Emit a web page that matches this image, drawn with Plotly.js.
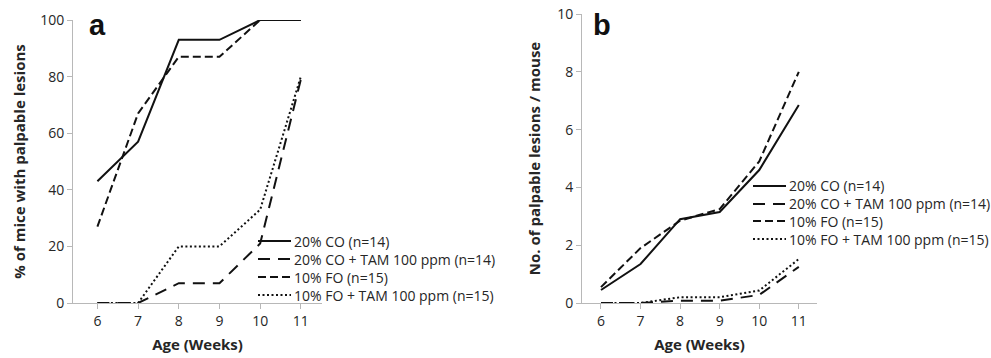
<!DOCTYPE html>
<html>
<head>
<meta charset="utf-8">
<script src="https://cdn.plot.ly/plotly-3.0.1.min.js"></script>
<style>html,body{margin:0;padding:0;background:#fff;}#chart{width:991px;height:358px;}</style>
</head>
<body>
<div id="chart"></div>
<script>
// Categories (age in weeks)
const weeks = [6, 7, 8, 9, 10, 11];
const seriesNames = [
  "20% CO (n=14)",
  "20% CO + TAM 100 ppm (n=14)",
  "10% FO (n=15)",
  "10% FO + TAM 100 ppm (n=15)"
];
// Panel a: % of mice with palpable lesions
const pctCO      = [43, 57, 93, 93, 100, 100];
const pctCOTAM   = [0, 0, 7, 7, 21, 79];
const pctFO      = [27, 67, 87, 87, 100, 100];
const pctFOTAM   = [0, 0, 20, 20, 33, 80];
// Panel b: number of palpable lesions per mouse
const numCO      = [0.45, 1.35, 2.9, 3.15, 4.6, 6.85];
const numCOTAM   = [0, 0, 0.08, 0.08, 0.28, 1.25];
const numFO      = [0.55, 1.9, 2.85, 3.25, 4.9, 8.0];
const numFOTAM   = [0, 0, 0.2, 0.2, 0.43, 1.52];

const dashes = ["solid", "12px,8px", "8px,4px", "2px,2.5px"];
const font = "'Open Sans', Lato, sans-serif";
const txtColor = "#262626";
const W = 991, H = 358;
const fx = p => p / W, fy = p => 1 - p / H;

const aVals = [pctCO, pctCOTAM, pctFO, pctFOTAM];
const bVals = [numCO, numCOTAM, numFO, numFOTAM];
const traces = [];
aVals.forEach((v, i) => traces.push({
  x: weeks, y: v, name: seriesNames[i], type: "scatter", mode: "lines",
  line: {color: "#111", width: 2, dash: dashes[i]},
  xaxis: "x", yaxis: "y", showlegend: false
}));
bVals.forEach((v, i) => traces.push({
  x: weeks, y: v, name: seriesNames[i], type: "scatter", mode: "lines",
  line: {color: "#111", width: 2, dash: dashes[i]},
  xaxis: "x2", yaxis: "y2", showlegend: false
}));

const axisCommon = {
  showgrid: false, zeroline: false, showline: true, linecolor: "#b8b8b8", linewidth: 1,
  ticks: "outside", ticklen: 5, tickcolor: "#b8b8b8", tickwidth: 1,
  tickfont: {family: font, size: 14, color: txtColor}, fixedrange: true
};
const titleFont = {family: font, size: 15, color: txtColor, weight: "bold"};

// Manual legends (sample line + label), positioned in pixels
const shapes = [];
const annotations = [];
function addLegend(x0, rows) {
  seriesNames.forEach((name, i) => {
    const y = rows[i];
    shapes.push({type: "line", xref: "paper", yref: "paper",
      x0: fx(x0), x1: fx(x0 + 33), y0: fy(y), y1: fy(y),
      line: {color: "#111", width: 2, dash: dashes[i]}});
    annotations.push({text: name, xref: "paper", yref: "paper",
      x: fx(x0 + 34), y: fy(y), xanchor: "left", yanchor: "middle", showarrow: false,
      font: {family: font, size: 14, color: txtColor}});
  });
}
addLegend(258, [241, 259, 277, 295]);
addLegend(753, [186, 204, 221, 239]);

annotations.push(
  {text: "a", xref: "paper", yref: "paper", x: fx(87), y: fy(43), xanchor: "left", yanchor: "bottom",
   showarrow: false, font: {family: "'Liberation Sans', Arial, sans-serif", size: 29, color: "#111", weight: "bold"}},
  {text: "b", xref: "paper", yref: "paper", x: fx(591), y: fy(43), xanchor: "left", yanchor: "bottom",
   showarrow: false, font: {family: "'Liberation Sans', Arial, sans-serif", size: 29, color: "#111", weight: "bold"}}
);

const layout = {
  width: W, height: H,
  margin: {l: 0, r: 0, t: 0, b: 0},
  paper_bgcolor: "#fff", plot_bgcolor: "#fff",
  showlegend: false,
  xaxis: Object.assign({}, axisCommon, {
    domain: [fx(73), fx(322)], range: [5.4, 11.52], tickvals: weeks, anchor: "y",
    title: {text: "Age (Weeks)", font: titleFont, standoff: 10}
  }),
  yaxis: Object.assign({}, axisCommon, {
    domain: [fy(303), fy(20)], range: [0, 100], tickvals: [0, 20, 40, 60, 80, 100], anchor: "x",
    title: {text: "% of mice with palpable lesions", font: titleFont, standoff: 10}
  }),
  xaxis2: Object.assign({}, axisCommon, {
    domain: [fx(582), fx(817)], range: [5.52, 11.46], tickvals: weeks, anchor: "y2",
    title: {text: "Age (Weeks)", font: titleFont, standoff: 10}
  }),
  yaxis2: Object.assign({}, axisCommon, {
    domain: [fy(303), fy(14)], range: [0, 10], tickvals: [0, 2, 4, 6, 8, 10], anchor: "x2",
    title: {text: "No. of palpable lesions / mouse", font: titleFont, standoff: 12}
  }),
  shapes: shapes,
  annotations: annotations
};

Plotly.newPlot("chart", traces, layout, {displayModeBar: false, staticPlot: true});
</script>
</body>
</html>
